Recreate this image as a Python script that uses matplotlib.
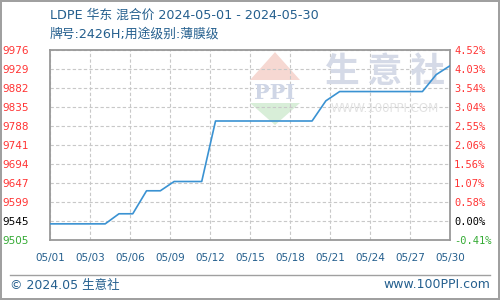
import numpy as np
import matplotlib.pyplot as plt
from matplotlib.lines import Line2D
from matplotlib.patches import Polygon

# Data (day of May 2024, price yuan/ton)
days = list(range(1, 31))
prices = [9545, 9545, 9545, 9545, 9545, 9570, 9570, 9627, 9627, 9650,
          9650, 9650, 9800, 9800, 9800, 9800, 9800, 9800, 9800, 9800,
          9850, 9873, 9873, 9873, 9873, 9873, 9873, 9873, 9915, 9937]

y_min = 9505
y_max = 9976
left_labels = ['9505', '9545', '9599', '9647', '9694', '9741',
               '9788', '9835', '9882', '9929', '9976']
right_labels = ['-0.41%', '0.00%', '0.58%', '1.07%', '1.56%', '2.06%',
                '2.55%', '3.04%', '3.54%', '4.03%', '4.52%']
x_labels = ['05/01', '05/03', '05/06', '05/09', '05/12', '05/15',
            '05/18', '05/21', '05/24', '05/27', '05/30']

title = 'LDPE 华东 混合价 2024-05-01 - 2024-05-30'
subtitle = '牌号:2426H;用途级别:薄膜级'

plt.rcParams['font.family'] = ['DejaVu Sans', 'Noto Sans CJK SC']

RED = '#ff3333'
GREEN = '#33aa33'
BLUE_TXT = '#245f8e'

fig = plt.figure(figsize=(5, 3), dpi=100)
fig.patch.set_edgecolor('#a0a0a0')
fig.patch.set_linewidth(1.5)

ax = fig.add_axes([0.1, 0.2, 0.8, 190 / 300])
ax.set_xlim(days[0], days[-1])
ax.set_ylim(y_min, y_max)

yt = np.linspace(y_min, y_max, len(left_labels))
xt = np.linspace(days[0], days[-1], len(x_labels))

ax.set_yticks(yt)
ax.set_yticklabels(left_labels)
ax.set_xticks(xt)
ax.set_xticklabels(x_labels)
ax.tick_params(axis='y', length=0, pad=15, labelsize=7.5)
ax.tick_params(axis='x', length=0, pad=9, labelsize=7.5, labelcolor=BLUE_TXT)
for i, lab in enumerate(ax.get_yticklabels()):
    lab.set_color(GREEN if i == 0 else ('black' if i == 1 else RED))

ax.grid(True, color='#c8c8c8', linestyle=(0, (3, 2)), linewidth=0.8, zorder=1)
ax.set_axisbelow(True)
for s in ax.spines.values():
    s.set_color('#999999')
    s.set_linewidth(1.3)

# watermark
ax.add_patch(Polygon([[0.5, 0.842], [0.625, 0.842], [0.5625, 0.989]],
                     closed=True, transform=ax.transAxes, color='#f6d8d2', lw=0, zorder=0.5))
ax.add_patch(Polygon([[0.5, 0.721], [0.625, 0.721], [0.5625, 0.605]],
                     closed=True, transform=ax.transAxes, color='#d8eed8', lw=0, zorder=0.5))
ax.text(0.5625, 0.775, 'PPI', transform=ax.transAxes, ha='center', va='center',
        fontsize=15, fontweight='bold', family='DejaVu Serif', color='#cfd6e6', zorder=0.6)
ax.text(0.8375, 0.885, '生 意 社', transform=ax.transAxes, ha='center', va='center',
        fontsize=25, fontweight='bold', family=['Noto Sans CJK SC'], color='#d5dae7', zorder=0.6)
ax.text(0.8375, 0.69, 'WWW.100PPI.COM', transform=ax.transAxes, ha='center', va='center',
        fontsize=8.5, color='#e2e2e2', zorder=0.6)

ax.plot(days, prices, color='#3a92d2', linewidth=1.2, zorder=3)

# right axis with percent change
ax2 = ax.twinx()
ax2.set_ylim(y_min, y_max)
ax2.set_yticks(yt)
ax2.set_yticklabels(right_labels)
ax2.tick_params(axis='y', length=0, pad=3, labelsize=7.5)
for i, lab in enumerate(ax2.get_yticklabels()):
    lab.set_color(GREEN if i == 0 else ('black' if i == 1 else RED))
    lab.set_family('DejaVu Sans Mono')
for s in ax2.spines.values():
    s.set_visible(False)

# titles
fig.text(0.1, 0.95, title, ha='left', va='center', fontsize=9.2, color=BLUE_TXT)
fig.text(0.1, 0.887, subtitle, ha='left', va='center', fontsize=9.2, color=BLUE_TXT)

# footer
fig.add_artist(Line2D([0.02, 0.98], [1 - 275 / 300] * 2, color='#a0a0a0', linewidth=1))
fig.text(0.02, 0.05, '© 2024.05 生意社', ha='left', va='center', fontsize=9, color=BLUE_TXT)
fig.text(0.98, 0.05, 'www.100PPI.com', ha='right', va='center', fontsize=9, color=BLUE_TXT)

fig.savefig('out.png', dpi=100)
